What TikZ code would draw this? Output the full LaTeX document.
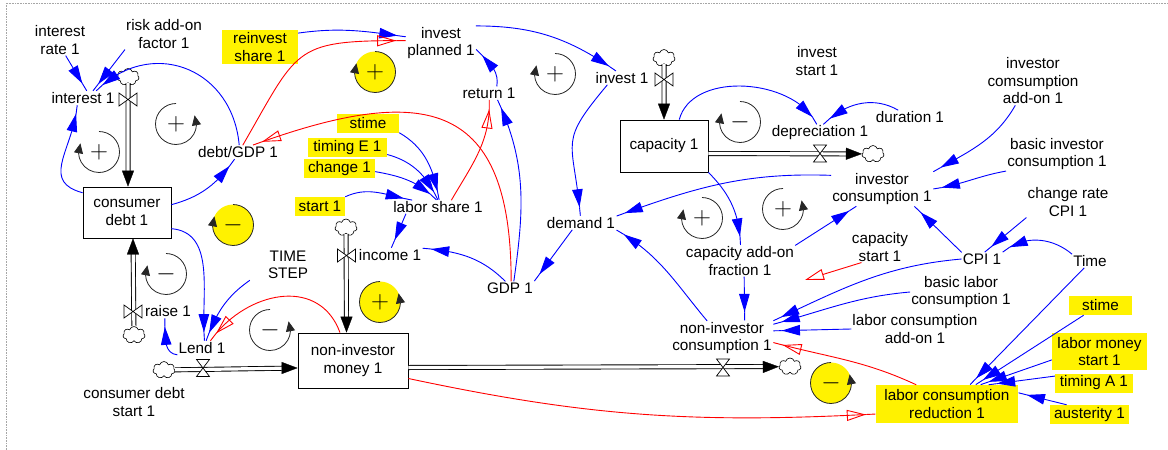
\documentclass[tikz,border=0pt]{standalone}
\usepackage{fontspec}
\setmainfont{Liberation Sans}
\usetikzlibrary{arrows.meta,bending,shapes.symbols}
\newcommand{\vlpR}[5]{%
  \path[fill=#4] (#1,#2) circle[radius=20.5];
  \draw[larc] (#1,#2) ++(90:20.5) arc[start angle=90,end angle=385,radius=20.5];
  \node[signtxt] (#5) at (#1,#2) {$#3$};}
\newcommand{\vlpL}[5]{%
  \path[fill=#4] (#1,#2) circle[radius=20.5];
  \draw[larc] (#1,#2) ++(90:20.5) arc[start angle=90,end angle=-205,radius=20.5];
  \node[signtxt] (#5) at (#1,#2) {$#3$};}
\begin{document}
\begin{tikzpicture}[x=1pt,y=1pt,
  every node/.style={font=\fontsize{15.3}{17.5}\selectfont, inner sep=1pt, align=center},
  yel/.style={fill=yellow, inner sep=0pt, minimum height=19pt},
  stock/.style={draw, line width=0.8pt, inner sep=0pt},
  link/.style={blue, line width=0.9pt, -{Triangle[length=18pt,width=10.5pt]Rectangle[length=9pt,width=0.9pt]}},
  dlink/.style={red, line width=0.9pt, -{Triangle[open,length=19pt,width=11pt]Rectangle[length=10pt,width=0.9pt]}},
  dlinkz/.style={red, line width=0.9pt, -{Triangle[open,length=19pt,width=11pt]}},
  pipe/.style={draw=black, double=white, line width=0.9pt, double distance=3.2pt},
  ptip/.style={white, line width=0.3pt, -{Triangle[length=16pt,width=12pt,color=black,fill=black]}},
  valve/.style={draw=black, fill=white, line width=0.7pt},
  cloudn/.style={cloud, draw, cloud puffs=7, aspect=1.3, minimum width=22pt, minimum height=17pt, inner sep=0pt, fill=white, line width=0.6pt},
  larc/.style={black!85, line width=0.8pt, -{Triangle[length=10pt,width=9pt]}},
  signtxt/.style={font=\fontsize{33}{33}\selectfont, inner sep=0pt},
]
\useasboundingbox (0,0) rectangle (1168,-450);
\draw[gray!70, densely dotted, line width=0.6pt] (6,-450) -- (6,-3) -- (1168,-3);

% ---------- variables ----------
\node (interestrate) at (60,-40) {interest\\rate 1};
\node (riskaddon) at (164,-34) {risk add-on\\factor 1};
\node (interest) at (83,-98) {interest 1};
\node (debtgdp) at (238,-152) {debt/GDP 1};
\node[stock, minimum width=88pt, minimum height=51pt] (consdebt) at (127,-212.5) {consumer\\debt 1};
\node (raise) at (168,-311) {raise 1};
\node (lend) at (202,-348) {Lend 1};
\node (cdstart) at (134,-402) {consumer debt\\start 1};
\node (timestep) at (288,-265) {TIME\\STEP};
\node[stock, minimum width=110pt, minimum height=55pt] (money) at (353,-360.5) {non-investor\\money 1};
\node (income) at (390,-255) {income 1};
\node[yel, minimum width=76pt, minimum height=34pt] (reinvest) at (260,-47) {reinvest\\share 1};
\node[yel, minimum width=62pt] (stime) at (368,-123) {stime};
\node[yel, minimum width=79pt] (timingE) at (347.5,-147.5) {timing E 1};
\node[yel, minimum width=71pt] (change) at (339.5,-168.5) {change 1};
\node[yel, minimum width=50pt] (start) at (320,-206.5) {start 1};
\node (laborshare) at (438,-207) {labor share 1};
\node (investplanned) at (441,-43) {invest\\planned 1};
\node (return) at (489,-93) {return 1};
\node (invest) at (622,-78) {invest 1};
\node[stock, minimum width=88pt, minimum height=52pt] (capacity) at (664,-146) {capacity 1};
\node (investstart) at (817,-61) {invest\\start 1};
\node (depreciation) at (820,-133) {depreciation 1};
\node (duration) at (910,-117) {duration 1};
\node (invaddon) at (1033,-81) {investor\\comsumption\\add-on 1};
\node (basicinv) at (1057,-154) {basic investor\\consumption 1};
\node (invcons) at (882,-189) {investor\\consumption 1};
\node (changerate) at (1068,-202) {change rate\\CPI 1};
\node (cpi) at (982,-259) {CPI 1};
\node (time) at (1090,-261) {Time};
\node (capstart) at (880,-247) {capacity\\start 1};
\node (basiclabor) at (961,-292) {basic labor\\consumption 1};
\node (laboraddon) at (915,-329) {labor consumption\\add-on 1};
\node[yel, minimum width=63pt] (stime2) at (1100.5,-305.5) {stime};
\node[yel, minimum width=95pt, minimum height=37pt] (lms) at (1099.5,-351.5) {labor money\\start 1};
\node[yel, minimum width=78pt] (timingA) at (1094,-383) {timing A 1};
\node[yel, minimum width=79pt] (austerity) at (1089.5,-414.5) {austerity 1};
\node[yel, minimum width=142pt, minimum height=38pt] (lcr) at (947,-404) {labor consumption\\reduction 1};
\node (noninvcons) at (722,-338) {non-investor\\consumption 1};
\node (capaddon) at (740,-261) {capacity add-on\\fraction 1};
\node (demand) at (581,-223) {demand 1};
\node (gdp) at (510,-288) {GDP 1};

% ---------- loops ----------
\vlpR{176}{-124}{+}{none}{lpa}
\vlpL{99}{-152}{+}{none}{lpb}
\vlpL{233}{-225}{-}{yellow}{lpc}
\vlpL{166}{-274}{-}{none}{lpd}
\vlpR{270}{-330}{-}{none}{lpe}
\vlpR{380}{-302}{+}{yellow}{lpf}
\vlpL{375}{-72}{+}{yellow}{lpg}
\vlpL{555}{-74}{+}{none}{lph}
\vlpL{740}{-122}{-}{none}{lpi}
\vlpL{702}{-218}{+}{none}{lpj}
\vlpR{783}{-209}{+}{none}{lpk}
\vlpR{831}{-383}{-}{yellow}{lpl}

% ---------- flows ----------
\node[cloudn] (cl1) at (128,-77) {};
\coordinate (v1) at (128,-99.5);
\node[cloudn] (cl2) at (134,-335) {};
\coordinate (v2) at (133,-311.5);
\node[cloudn] (cl3) at (164,-370) {};
\coordinate (v3) at (203,-368);
\node[cloudn] (cl4) at (346,-227.5) {};
\coordinate (v4) at (346.5,-255.5);
\node[cloudn] (cl5) at (664,-58) {};
\coordinate (v5) at (664,-79.5);
\node[cloudn] (cl6) at (873,-154) {};
\coordinate (v6) at (820,-153.5);
\node[cloudn] (cl7) at (790,-366.5) {};
\coordinate (v7) at (723,-367.5);

\draw[pipe, shorten >=14pt] (cl1) -- (v1 |- consdebt.north);
\draw[ptip] (v1) -- (v1 |- consdebt.north);
\draw[pipe, shorten >=14pt] (cl2) -- (v2 |- consdebt.south);
\draw[ptip] (v2) -- (v2 |- consdebt.south);
\draw[pipe, shorten >=14pt] (cl3) -- (v3 -| money.west);
\draw[ptip] (v3) -- (v3 -| money.west);
\draw[pipe, shorten >=14pt] (cl4) -- (v4 |- money.north);
\draw[ptip] (v4) -- (v4 |- money.north);
\draw[pipe, shorten >=14pt] (cl5) -- (v5 |- capacity.north);
\draw[ptip] (v5) -- (v5 |- capacity.north);
\draw[pipe, shorten >=14pt] (v6 -| capacity.east) -- (cl6);
\draw[ptip] (v6) -- (cl6);
\draw[pipe, shorten >=14pt] (v7 -| money.east) -- (cl7);
\draw[ptip] (v7) -- (cl7);

\draw[valve] (v1) +(-9,6.5) -- +(9,-6.5) -- +(9,6.5) -- +(-9,-6.5) -- cycle;
\draw[valve] (v2) +(-9,6.5) -- +(9,-6.5) -- +(9,6.5) -- +(-9,-6.5) -- cycle;
\draw[valve] (v4) +(-9,6.5) -- +(9,-6.5) -- +(9,6.5) -- +(-9,-6.5) -- cycle;
\draw[valve] (v5) +(-9,6.5) -- +(9,-6.5) -- +(9,6.5) -- +(-9,-6.5) -- cycle;
\draw[valve] (v3) +(-6.5,8.5) -- +(6.5,-8.5) -- +(-6.5,-8.5) -- +(6.5,8.5) -- cycle;
\draw[valve] (v6) +(-6.5,8.5) -- +(6.5,-8.5) -- +(-6.5,-8.5) -- +(6.5,8.5) -- cycle;
\draw[valve] (v7) +(-6.5,8.5) -- +(6.5,-8.5) -- +(-6.5,-8.5) -- +(6.5,8.5) -- cycle;

% ---------- links ----------
\draw[link] (interestrate.-70) -- (interest.60);
\draw[link] (riskaddon.south west) -- (interest.35);
\draw[link] (debtgdp.80) to[out=95,in=45,looseness=1.3] (interest.28);
\draw[link] (consdebt.156) to[out=165,in=-95,looseness=1.3] (interest.-130);
\draw[link] (consdebt.10) to[out=15,in=-125] (debtgdp.-115);
\draw[link] (consdebt.-20) to[out=-5,in=95] (lend.70);
\draw[link] ([xshift=-17pt]timestep.south west) to[out=-145,in=70] (lend.60);
\draw[dlink] (money.115) to[out=110,in=55,looseness=1.2] (lend.40);
\draw[link] (lend.south west) to[out=175,in=-88] (raise.-115);
\draw[link] (reinvest.20) to[out=8,in=172] (investplanned.170);
\draw[dlink] (debtgdp.55) to[out=60,in=180,looseness=1.5] (investplanned.176);
\draw[dlink] (gdp.80) to[out=90,in=20,looseness=1.6] (debtgdp.25);
\draw[dlink] (laborshare.27) to[out=60,in=-88] (return.-88);
\draw[link] (gdp.60) to[out=82,in=-65] (return.-38);
\draw[link] (return.40) to[out=80,in=-45] (investplanned.-10);
\draw[link] (investplanned.north east) to[out=0,in=145] (invest.130);
\draw[link] (invest.-155) to[out=-130,in=95,looseness=1.5] (demand.95);
\draw[link] (capacity.60) to[out=75,in=115,looseness=0.95] (depreciation.110);
\draw[link] (duration.150) to[out=150,in=45] (depreciation.70);
\draw[link] (invaddon.-126) to[out=-120,in=30] (invcons.north east);
\draw[link] (basicinv.south west) to[out=190,in=8] (invcons.east);
\draw[link] (cpi.north west) -- (invcons.-28);
\draw[link] (changerate.south west) -- (cpi.70);
\draw[link] (time.north west) to[out=140,in=40] (cpi.north east);
\draw[link] (invcons.165) to[out=178,in=20] (demand.north east);
\draw[link] (capacity.south east) to[out=-45,in=92] (capaddon.88);
\draw[link] (capaddon.north east) -- (invcons.-146);
\draw[link] (capaddon.-75) -- (noninvcons.37);
\draw[link] (noninvcons.131) to[out=130,in=-30] (demand.south east);
\draw[link] (demand.-142) -- (gdp.north east);
\draw[link] (gdp.125) to[out=135,in=-5] (income.north east);
\draw[link] (laborshare.-168) -- (income.80);
\draw[link] (stime.south east) to[out=-30,in=100] (laborshare.80);
\draw[link] (timingE.-10) to[out=-15,in=115] (laborshare.90);
\draw[link] (change.-5) to[out=-10,in=135] (laborshare.100);
\draw[link] (start.north east) to[out=25,in=170] (laborshare.165);
\draw[link] (cpi.west) to[out=185,in=25] (noninvcons.north east);
\draw[link] (basiclabor.west) to[out=185,in=15] (noninvcons.15);
\draw[link] (laboraddon.west) -- (noninvcons.8);
\draw[dlink] (lcr.148) to[out=155,in=-15] (noninvcons.-5);
\draw[dlink] (money.-18) to[out=-12,in=183] (lcr.-172);
\coordinate (ghost) at (805,-280);
\draw[dlinkz] (capstart.-140) -- (ghost);
\draw[link] (stime2.-150) -- (lcr.34);
\draw[link] (time.-130) -- (lcr.40);
\draw[link] (lms.-170) -- (lcr.30);
\draw[link] (timingA.170) -- (lcr.25);
\draw[link] (austerity.157) -- (lcr.9);
\end{tikzpicture}
\end{document}
